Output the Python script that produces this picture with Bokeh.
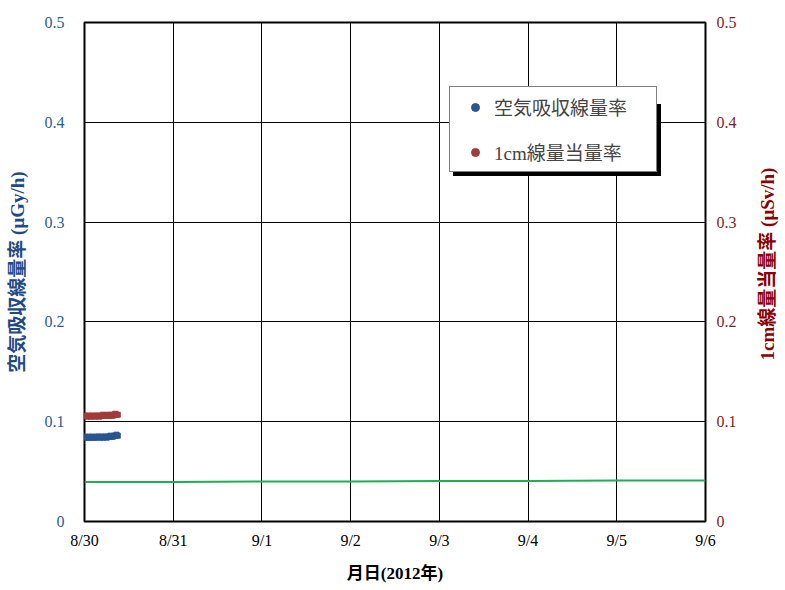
import math
import pandas as pd
from bokeh.plotting import figure
from bokeh.models import (Range1d, LinearAxis, FixedTicker, Legend, LegendItem,
                          ColumnDataSource, Label)
from bokeh.embed import file_html
from bokeh.resources import INLINE

# ---- data ----
start = pd.Timestamp("2012-08-30 00:00")
times = pd.date_range("2012-08-30 00:00", periods=28, freq="20min")
air_dose = [0.084, 0.085, 0.084, 0.084, 0.085, 0.084, 0.085, 0.084, 0.084, 0.085,
            0.084, 0.085, 0.085, 0.084, 0.085, 0.084, 0.085, 0.085, 0.084, 0.085,
            0.085, 0.086, 0.085, 0.085, 0.086, 0.086, 0.087, 0.086]
dose_eq = [0.106, 0.106, 0.105, 0.106, 0.106, 0.105, 0.106, 0.106, 0.105, 0.106,
           0.106, 0.106, 0.105, 0.106, 0.106, 0.107, 0.106, 0.106, 0.106, 0.107,
           0.106, 0.106, 0.107, 0.106, 0.107, 0.108, 0.107, 0.107]
ref_days = ["2012-08-30", "2012-08-31", "2012-09-01", "2012-09-02", "2012-09-03",
            "2012-09-04", "2012-09-05", "2012-09-06"]
ref_level = [0.0395, 0.0395, 0.040, 0.040, 0.0405, 0.0405, 0.041, 0.041]
tick_labels = ["8/30", "8/31", "9/1", "9/2", "9/3", "9/4", "9/5", "9/6"]
y_ticks = [0, 0.1, 0.2, 0.3, 0.4, 0.5]

# convert to day offsets
x_data = [(t - start).total_seconds() / 86400 for t in times]
x_ref = [(pd.Timestamp(d) - start).total_seconds() / 86400 for d in ref_days]
x_ticks = [(pd.Timestamp(d) - start).total_seconds() / 86400 for d in ref_days]

SERIF = "Liberation Serif, Noto Sans CJK JP"
BLUE = "#2A5592"
RED = "#A23B3B"
BLUE_TXT = "#2E5C9A"
RED_TXT = "#7F1E1E"

X_END, Y_TOP = 7, 0.5
p = figure(frame_width=621, frame_height=499, output_backend="svg",
           toolbar_location=None,
           x_range=Range1d(0, X_END), y_range=Range1d(0, Y_TOP),
           min_border_left=84, min_border_right=80, min_border_top=22,
           min_border_bottom=10)
p.extra_y_ranges = {"right": Range1d(0, Y_TOP)}

p.outline_line_color = "black"
p.outline_line_width = 2
p.background_fill_color = "white"
p.border_fill_color = "white"

# grid
p.xgrid.grid_line_color = "black"
p.ygrid.grid_line_color = "black"
p.xgrid.grid_line_width = 1
p.ygrid.grid_line_width = 1
p.xgrid.ticker = FixedTicker(ticks=x_ticks)
p.ygrid.ticker = FixedTicker(ticks=y_ticks)

# x axis
xa = p.xaxis[0]
xa.ticker = FixedTicker(ticks=x_ticks)
xa.major_label_overrides = {x: l for x, l in zip(x_ticks, tick_labels)}
xa.axis_label = "月日(2012年)"

# left axis
ya = p.yaxis[0]
ya.ticker = FixedTicker(ticks=y_ticks)
ya.major_label_overrides = {0: "0"}
ya.axis_label = "空気吸収線量率 (μGy/h)"
ya.axis_label_text_color = "#1F4A85"
ya.major_label_text_color = BLUE_TXT

# right axis (title drawn as a rotated label reading bottom-to-top)
ra = LinearAxis(y_range_name="right", ticker=FixedTicker(ticks=y_ticks))
ra.major_label_overrides = {0: "0"}
ra.major_label_text_color = RED_TXT
p.add_layout(ra, "right")

for ax in [xa, ya, ra]:
    ax.axis_line_color = None
    ax.major_tick_line_color = None
    ax.minor_tick_line_color = None
    ax.major_label_text_font = SERIF
    ax.major_label_text_font_size = "16px"
    ax.axis_label_text_font = SERIF
    ax.axis_label_text_font_size = "19px"
    ax.axis_label_text_font_style = "bold"
xa.major_label_text_color = "black"
xa.axis_label_text_color = "black"
xa.axis_label_text_font_size = "17px"
xa.major_label_standoff = 4
xa.axis_label_standoff = 12
ya.major_label_standoff = 14
ya.axis_label_standoff = 14
ra.major_label_standoff = 5

right_title = Label(x=X_END, y=Y_TOP / 2, x_offset=62, y_offset=8,
                    text="1cm線量当量率 (μSv/h)", angle=math.pi / 2,
                    text_align="center", text_baseline="middle",
                    text_font=SERIF, text_font_size="19px",
                    text_font_style="bold", text_color="#8B0000")
p.add_layout(right_title, "right")

# reference line
p.line(x_ref, ref_level, line_color="#1DB050", line_width=2)

src = ColumnDataSource(dict(x=x_data, a=air_dose, b=dose_eq))
p.scatter("x", "a", source=src, size=5, color=BLUE, marker="square")
p.scatter("x", "b", source=src, size=5, color=RED, marker="square",
          y_range_name="right")

# legend glyph proxies (small dots)
leg_a = p.scatter([x_data[0]], [air_dose[0]], size=3, color=BLUE, visible=False)
leg_b = p.scatter([x_data[0]], [dose_eq[0]], size=3, color=RED, visible=False)

labels = ["空気吸収線量率", "1cm線量当量率"]


def make_legend(loc, shadow=False):
    texts = [" ", " "] if shadow else labels
    lg = Legend(items=[LegendItem(label=texts[0], renderers=[leg_a]),
                       LegendItem(label=texts[1], renderers=[leg_b])],
                location=loc)
    lg.label_text_font = SERIF
    lg.label_text_font_size = "19px"
    lg.border_line_color = "black"
    lg.border_line_width = 1
    lg.background_fill_color = "black" if shadow else "white"
    lg.background_fill_alpha = 1
    lg.inactive_fill_alpha = 0
    lg.padding = 6
    lg.spacing = 18
    lg.glyph_width = 38
    lg.glyph_height = 20
    lg.label_height = 20
    lg.label_width = 156
    lg.label_standoff = 0
    lg.margin = 0
    return lg


p.add_layout(make_legend((369, 345), shadow=True), "center")
p.add_layout(make_legend((365, 349)), "center")

open("out.html", "w").write(file_html(p, INLINE))
